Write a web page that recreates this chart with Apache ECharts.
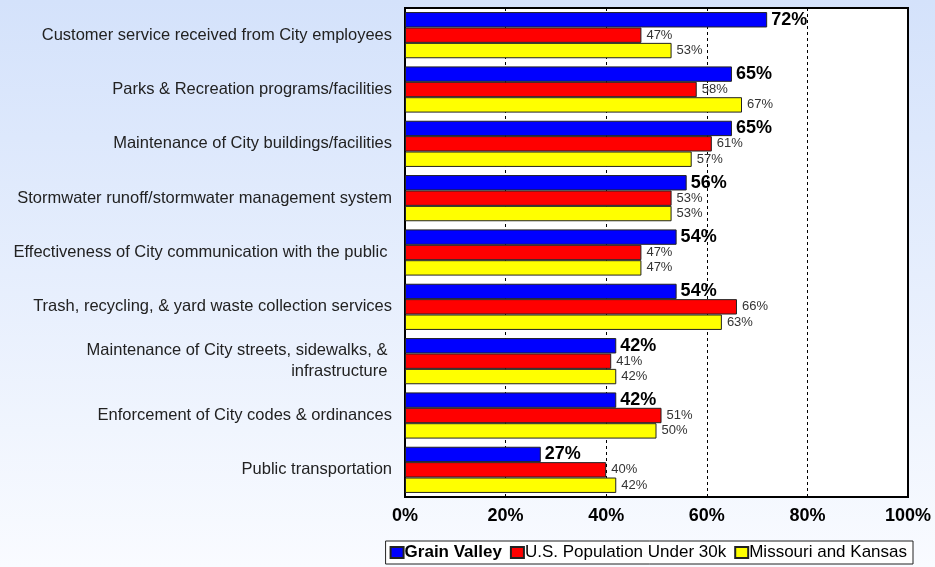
<!DOCTYPE html>
<html>
<head>
<meta charset="utf-8">
<script src="https://cdn.jsdelivr.net/npm/echarts@6/dist/echarts.min.js"></script>
<style>
  html, body { margin: 0; padding: 0; }
  #chart { width: 935px; height: 567px; }
</style>
</head>
<body>
<div id="chart"></div>
<script>
// Satisfaction ratings by service area (percent satisfied)
const categories = [
  'Customer service received from City employees',
  'Parks & Recreation programs/facilities',
  'Maintenance of City buildings/facilities',
  'Stormwater runoff/stormwater management system',
  'Effectiveness of City communication with the public ',
  'Trash, recycling, & yard waste collection services',
  'Maintenance of City streets, sidewalks, & \ninfrastructure ',
  'Enforcement of City codes & ordinances',
  'Public transportation'
];
const seriesNames = ['Grain Valley', 'U.S. Population Under 30k', 'Missouri and Kansas'];
const grainValley = [72, 65, 65, 56, 54, 54, 42, 42, 27];
const usUnder30k = [47, 58, 61, 53, 47, 66, 41, 51, 40];
const missouriKansas = [53, 67, 57, 53, 47, 63, 42, 50, 42];
const xTicks = [0, 20, 40, 60, 80, 100];

const FONT = 'Liberation Sans, Arial, sans-serif';
const colors = ['#0000ff', '#ff0000', '#ffff00'];
const values = [grainValley, usUnder30k, missouriKansas];

const chart = echarts.init(document.getElementById('chart'));

const series = seriesNames.map((name, i) => ({
  name: name,
  type: 'bar',
  data: values[i],
  barGap: '0%',
  barCategoryGap: '15%',
  itemStyle: {
    color: colors[i],
    borderColor: '#222',
    borderWidth: 1
  },
  label: {
    show: true,
    position: 'right',
    distance: i === 0 ? 4 : 5,
    formatter: '{c}%',
    fontFamily: FONT,
    fontSize: i === 0 ? 18 : 13,
    fontWeight: i === 0 ? 'bold' : 'normal',
    color: i === 0 ? '#000' : '#333'
  },
  emphasis: { disabled: true }
}));

chart.setOption({
  animation: false,
  backgroundColor: {
    type: 'linear', x: 0, y: 0, x2: 0, y2: 1,
    colorStops: [
      { offset: 0, color: '#d4e2fb' },
      { offset: 1, color: '#f9fbff' }
    ]
  },
  grid: {
    left: 405, right: 27, top: 8, bottom: 70,
    show: true,
    backgroundColor: '#ffffff',
    borderColor: '#000',
    borderWidth: 2
  },
  legend: {
    bottom: 3,
    right: 22,
    orient: 'horizontal',
    data: [
      { name: seriesNames[0], textStyle: { fontWeight: 'bold' } },
      { name: seriesNames[1] },
      { name: seriesNames[2] }
    ],
    icon: 'rect',
    itemWidth: 13,
    itemHeight: 11,
    itemGap: 8,
    padding: [3, 6, 3, 4],
    borderColor: '#222',
    borderWidth: 1,
    backgroundColor: '#ffffff',
    textStyle: { fontFamily: FONT, fontSize: 17, color: '#000', padding: [0, 0, 0, -4] }
  },
  xAxis: {
    type: 'value',
    min: xTicks[0],
    max: xTicks[xTicks.length - 1],
    interval: 20,
    axisLine: { show: false },
    axisTick: { show: false },
    axisLabel: {
      formatter: '{value}%',
      fontFamily: FONT,
      fontSize: 18,
      fontWeight: 'bold',
      color: '#000',
      margin: 10
    },
    splitLine: { show: true, lineStyle: { color: '#000', type: [3, 3], width: 1 } }
  },
  yAxis: {
    type: 'category',
    inverse: true,
    data: categories,
    axisLine: { show: false },
    axisTick: { show: false },
    axisLabel: {
      fontFamily: FONT,
      fontSize: 16.5,
      color: '#222',
      margin: 13,
      lineHeight: 21,
      align: 'right'
    },
    splitLine: { show: false }
  },
  series: series
});
</script>
</body>
</html>
